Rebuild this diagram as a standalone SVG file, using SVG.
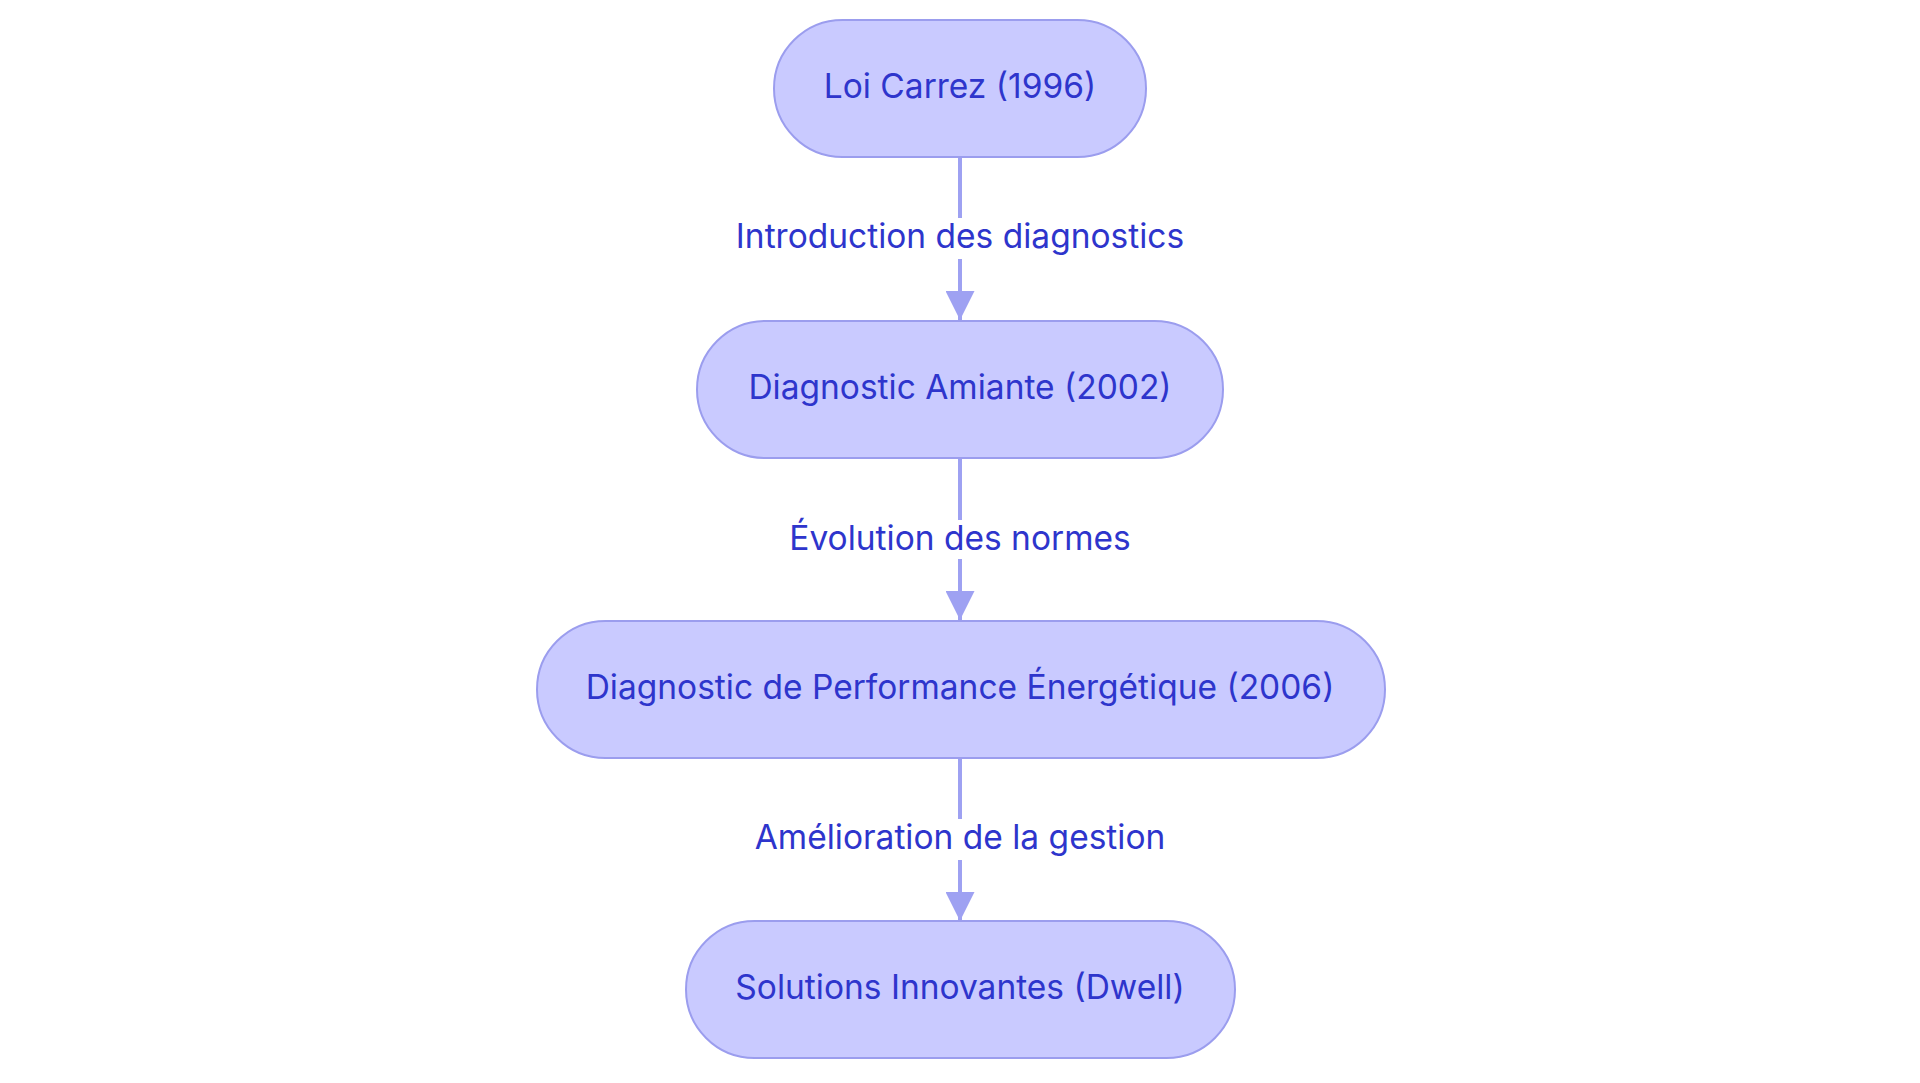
<svg xmlns="http://www.w3.org/2000/svg" width="1920" height="1083" viewBox="0 0 1920 1083">
<style>
.node rect{fill:#c9caff;stroke:#9b9dee;stroke-width:2}
.node text{font-family:Inter,"Noto Sans",sans-serif;font-size:33.5px;fill:#2e35cc;text-anchor:middle}
.edge line{stroke:#9ea1f2;stroke-width:4}
.lbl rect{fill:#ffffff}
.lbl text{font-family:Inter,"Noto Sans",sans-serif;font-size:33.5px;fill:#2e35cc;text-anchor:middle}
</style>
<defs>
<marker id="arr" markerUnits="userSpaceOnUse" markerWidth="30" markerHeight="29" refX="30" refY="15" orient="auto" viewBox="0 0 30 30">
<path d="M0,0 L30,15 L0,30 Z" fill="#9ea1f2"/>
</marker>
</defs>
<rect width="1920" height="1083" fill="#ffffff"/>
<g id="connectors">
<g class="edge">
<line x1="960" y1="157" x2="960" y2="320" marker-end="url(#arr)"/>
<line x1="960" y1="458" x2="960" y2="620" marker-end="url(#arr)"/>
<line x1="960" y1="758" x2="960" y2="921" marker-end="url(#arr)"/>
</g>
<g class="lbl">
<rect x="735" y="218" width="450" height="41"/>
<text x="960" y="248">Introduction des diagnostics</text>
<rect x="792" y="520" width="336" height="39"/>
<text x="960" y="550">Évolution des normes</text>
<rect x="755" y="819" width="410" height="41"/>
<text x="960" y="849">Amélioration de la gestion</text>
</g>
</g>
<g id="n1" class="node">
<rect x="774" y="20" width="372" height="137" rx="68.5"/>
<text x="960" y="98">Loi Carrez (1996)</text>
</g>
<g id="n2" class="node">
<rect x="697" y="321" width="526" height="137" rx="68.5"/>
<text x="960" y="399">Diagnostic Amiante (2002)</text>
</g>
<g id="n3" class="node">
<rect x="537" y="621" width="848" height="137" rx="68.5"/>
<text x="960" y="699">Diagnostic de Performance Énergétique (2006)</text>
</g>
<g id="n4" class="node">
<rect x="686" y="921" width="549" height="137" rx="68.5"/>
<text x="960" y="999">Solutions Innovantes (Dwell)</text>
</g>
</svg>
